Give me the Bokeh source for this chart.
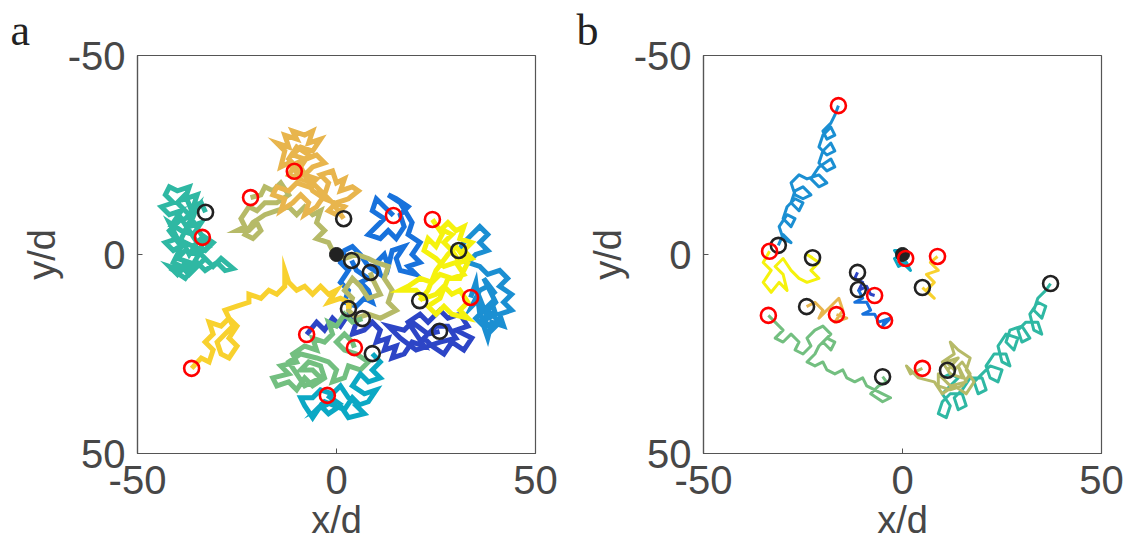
from bokeh.plotting import figure
from bokeh.layouts import row
from bokeh.models import Range1d, FixedTicker
from bokeh.embed import file_html
from bokeh.resources import INLINE

# ---------------- Panel a trajectories: (x/d, y/d) points ----------------
a_teal = [(-32.9,-10.6),(-34,-13),(-36,-12),(-35,-15),(-38,-14),(-37,-17),(-40,-16),(-42,-17),(-43,-15),(-41,-13),(-44,-12),(-42,-10),(-39,-11),(-41,-8),(-38,-9),(-35,-12),(-37,-7),(-34,-8),(-36,-5),(-39,-6),(-42,-8),(-40,-4),(-43,-3),(-41,-1),(-38,-3),(-36,-2),(-34,-4),(-32,-2),(-35,0),(-38,-1),(-40,1),(-37,2),(-39,4),(-42,3),(-40,5),(-38,2),(-36,4),(-33,1),(-35,3),(-37,5),(-39,3),(-41,4),(-38,6),(-35,2),(-33,4),(-30,2),(-28,4),(-26,3.5),(-29,1),(-31,3),(-34,0),(-36,-2),(-33,-1),(-31,-3),(-34,-5),(-37,-10),(-40,-13),(-38,-15),(-36,-10),(-39,-4),(-37,0),(-35,-3),(-39,-9),(-42,-6),(-39,-2),(-41,2),(-37,4),(-34,-1),(-33.7,-4.3)]

a_orange = [(-10.6,-20.9),(-12,-23),(-14,-22),(-13,-26),(-15,-28),(-12,-27),(-13,-30),(-10,-29),(-11,-31),(-8,-30),(-6,-31),(-7,-28),(-4,-29),(-6,-26),(-9,-27),(-11,-25),(-8,-24),(-11,-22),(-9,-19),(-12,-20),(-10,-23),(-5,-25),(-3,-23),(-6,-22),(-8,-20),(-5,-19),(-7,-17),(-10,-18),(-12,-16),(-15,-17),(-16,-15),(-13,-14),(-14,-11),(-11,-13),(-9,-15),(-7,-13),(-8,-10),(-5,-12),(-3,-15),(-2,-18),(-4,-20),(-1,-21),(0,-18),(2,-19),(1,-16),(4,-17),(5.5,-16),(3,-14),(0,-13),(-2,-11),(0,-10),(2,-12),(-3,-14),(-6,-16),(-9,-22),(-7,-25),(-10,-27),(-12,-24),(-9,-21),(-4,-16),(-1,-13),(1.8,-9)]

a_olive = [(-21.6,-14.3),(-19,-15),(-18,-17),(-16,-16),(-14,-18),(-12,-15),(-15,-13),(-18,-13),(-20,-11),(-22,-12),(-24,-9),(-23,-7),(-25,-6),(-22,-6),(-20,-8),(-19,-6),(-21,-4),(-23,-5),(-21,-8),(-18,-10),(-15,-11),(-12,-12),(-10,-10),(-8,-12),(-6,-10),(-4,-11),(-5,-8),(-3,-6),(-5,-4),(-2,-3),(-1,-1),(0,0),(2,1),(5,0),(8,1),(10,2),(13,3),(12,6),(14,9),(13,12),(15,14),(11,16),(8,15),(5,16),(3,14),(4,11),(2,9),(4,6),(6,8),(8,11),(11,10),(9,6),(8.5,4.5)]

a_blue = [(14.3,-9.8),(12,-12),(10,-14),(9,-11),(12,-9),(10,-7),(8,-5),(11,-4),(13,-6),(15,-4),(17,-7),(16,-10),(18,-12),(15,-14),(13,-15),(16,-13),(19,-8),(18,-5),(21,-3),(19,0),(21,2),(18,3),(20,5),(16,4),(15,1),(17,-2),(14,-1),(13,3),(12,0),(10,2),(11,5),(8,3),(6,0),(4,-2),(2,-1),(1,2),(3,4),(1,7),(3,9),(2,12),(5,13),(7,11),(9,12),(8,9),(6,7),(8,6),(5,4),(3.8,1.5)]

a_yellow = [(24.1,-8.8),(26,-6),(28,-8),(30,-6),(32,-7),(31,-4),(34,-3),(32,-1),(34,1),(31,2),(29,-1),(27,-3),(29,-5),(27,-6),(25,-2),(23,-4),(22,-1),(25,1),(27,3),(30,2),(32,5),(29,6),(26,5),(24,7),(21,6),(18,8),(16,9),(20,9),(22,11),(25,10),(27,8),(29,10),(31,9),(33,12),(31,14),(33,16),(29,15),(27,13),(25,15),(23,13),(26,11),(28,6),(31,6),(33,2),(30,-2),(28,0),(25,4),(23,9),(20.9,11.6)]

a_lblue = [(30.7,-1),(32,-3),(34,-5),(36,-7),(38,-5),(36,-3),(38,-1),(35,0),(33,2),(36,3),(38,5),(41,4),(43,6),(41,8),(44,10),(42,12),(44,14),(41,15),(42,18),(39,17),(38,21),(37,18),(35,16),(37,14),(39,12),(40,15),(38,16),(36,11),(34,13),(36,9),(38,8),(40,10),(37,6),(40,12),(38,14),(41,17),(39,19),(36,15),(35,7),(33.7,10.8)]

a_dblue = [(-7.5,20.1),(-5,17),(-3,19),(-1,16),(1,18),(3,15),(5,17),(4,20),(7,19),(9,17),(11,19),(10,22),(13,21),(12,24),(15,23),(14,26),(17,25),(19,22),(22,23),(20,20),(18,17),(21,15),(23,17),(26,14),(28,16),(31,15),(33,18),(30,19),(34,21),(32,24),(29,22),(27,25),(24,23),(22,21),(25,18),(28,18),(30,21),(26,22),(20,24),(16,21),(13,18),(17,19),(19,17),(23,20),(25.9,19.3)]

a_green = [(6.5,16.1),(4,17),(2,15),(0,18),(-2,17),(-1,20),(-3,22),(-6,21),(-5,24),(-8,23),(-11,25),(-10,27),(-14,28),(-12,30),(-16,31),(-15,33),(-12,32),(-10,34),(-8,31),(-6,33),(-3,31),(-4,28),(-7,27),(-9,29),(-6,29),(-4,31),(-8,33),(-12,27),(-9,25),(-5,26),(-2,27),(0,29),(-1,32),(2,31),(3,28),(6,29),(8,27),(5,25),(2,24),(0,22),(2,20),(4,22),(4.5,23.4)]

a_cyan = [(9,24.9),(11,27),(9,29),(11,31),(8,32),(6,30),(4,33),(7,35),(10,34),(8,37),(5,38),(7,40),(3,41),(1,38),(-2,40),(-4,38),(-6,41),(-8,38),(-9,36),(-6,36),(-4,34),(-1,35),(1,33),(3,36),(6,38),(4,36),(2,39),(-3,37),(-5,39),(-1,37),(0,37),(-2.3,35.4)]

a_gold = [(-36.4,28.6),(-34,26),(-32,27),(-31,24),(-33,22),(-31,20),(-32,17),(-29,18),(-27,16),(-25,18),(-27,21),(-25,23),(-27,26),(-29,25),(-30,22),(-28,20),(-26,18),(-28,14),(-25,13),(-22,12),(-22,10),(-19,11),(-17,9),(-15,10),(-13,8),(-13,4),(-12,7),(-10,9),(-8,8),(-6,10),(-4,8),(-2,10),(0,9),(-2,12),(1,11),(3,12),(3,13.6)]

a_start_x = [-32.9, 1.8, 3.8, 8.5, 20.9, 3.0, 6.5, 25.9, 9.0, 30.7]
a_start_y = [-10.6, -9.0, 1.5, 4.5, 11.6, 13.6, 16.1, 19.3, 24.9, -1.0]
a_end_x = [-33.7, -21.6, -10.6, 14.3, 24.1, 33.7, -7.5, 4.5, -2.3, -36.4]
a_end_y = [-4.3, -14.3, -20.9, -9.8, -8.8, 10.8, 20.1, 23.4, 35.4, 28.6]
a_fixed_x = [0.0]
a_fixed_y = [0.0]

# ---------------- Panel b trajectories ----------------
b_blue = [(-16.1,-37.4),(-17,-35),(-18,-33),(-20,-31),(-19,-29),(-17,-30),(-18,-32),(-20,-30),(-21,-27),(-19,-25),(-17,-26),(-18,-28),(-20,-26),(-21,-23),(-19,-21),(-17,-22),(-18,-24),(-21,-22),(-23,-19),(-21,-17),(-19,-18),(-21,-20),(-24,-19),(-26,-20),(-28,-18),(-27,-15),(-25,-14),(-23,-15),(-25,-17),(-27,-16),(-28,-13),(-26,-11),(-25,-13),(-27,-14),(-29,-12),(-30,-9),(-28,-7),(-27,-9),(-29,-10),(-31,-7),(-30,-4),(-28,-3),(-30,-5),(-31.2,-2.3)]

b_yellow = [(-33.4,-0.8),(-35,2),(-33,4),(-35,7),(-33,9.5),(-31,7),(-29,9),(-30,5),(-32,3),(-30,1),(-28,4),(-26,6),(-24,7),(-21,6),(-23,4),(-21,2),(-24,0),(-22.6,0.8)]

b_orange = [(-24.1,13.1),(-22,12),(-20,14),(-21,16),(-18,13),(-16,11),(-15,14),(-17,17),(-14,16),(-16.6,15.1)]

b_green = [(-33.7,15.3),(-32,17),(-30,19),(-32,21),(-30,22),(-28,20),(-26,22),(-27,24),(-25,25),(-23,23),(-24,21),(-22,19),(-20,18),(-18,20),(-20,22),(-18,24),(-17,22),(-19,21),(-21,23),(-22,25),(-24,27),(-22,28),(-20,27),(-19,29),(-17,30),(-15,29),(-14,31),(-12,32),(-10,31),(-9,33),(-7,34),(-5,35),(-3,36),(-5,37),(-8,35),(-6,33),(-4,32),(-5.0,30.7)]

b_dblue = [(-11.3,4.5),(-12,6),(-10,7),(-11,9),(-9,8),(-8,10),(-7.0,10.3)]

b_blue2 = [(-11.1,8.8),(-10,11),(-12,12),(-9,12),(-8,14),(-10,15),(-7,15),(-6,17),(-3,16),(-5,18),(-4.5,16.6)]

b_gold = [(8.8,0.5),(7,2),(9,4),(6,5),(8,7),(6,9),(8,11),(5.0,8.3)]

b_cyan = [(0,0),(-2,1),(-1,3),(1,2),(2,4),(0,2),(-2,-1),(1,-1),(0.8,1.0)]

b_olive = [(5.0,28.6),(2,30),(1,28),(4,31),(8,32),(10,35),(13,33),(16,35),(18,32),(16,29),(17,26),(14,24),(12,22),(13,25),(10,27),(12,30),(15,31),(14,28),(16,32),(12,33),(9,30),(9,33),(12,34),(15,33),(17,30),(15,27),(13,29),(11,27),(14,26),(11.3,29.1)]

b_teal = [(37.2,7.3),(36,9),(34,11),(33,14),(35,16),(36,13),(34,12),(32,15),(33,19),(35,20),(34,17),(31,17),(29,19),(30,22),(32,21),(30,18),(27,19),(26,22),(28,24),(29,21),(26,20),(24,23),(25,27),(27,28),(26,25),(23,25),(21,28),(22,31),(24,32),(25,29),(22,28),(20,30),(18,32),(19,35),(21,34),(20,31),(17,31),(15,34),(13,36),(14,39),(16,38),(15,35),(12,35),(10,37),(9,40),(11,41),(12,38),(10,35),(12,33),(14,31),(12,30),(10,31)]

b_start_x = [-31.2, -22.6, -24.1, -5.0, -11.3, -11.1, 5.0, 11.3, 37.2]
b_start_y = [-2.3, 0.8, 13.1, 30.7, 4.5, 8.8, 8.3, 29.1, 7.3]
b_end_x = [-16.1, -33.4, -16.6, -33.7, -7.0, -4.5, 8.8, 5.0, 0.8]
b_end_y = [-37.4, -0.8, 15.1, 15.3, 10.3, 16.6, 0.5, 28.6, 1.0]
b_fixed_x = [0.0]
b_fixed_y = [0.0]

ticks = [-50, 0, 50]
tick_labels = {-50: "-50", 0: "0", 50: "50"}
FONT = "Liberation Sans"
AX = "#555555"
TXT = "#474747"


def panel(letter, trajs, lw, join, start, end, fixed, left):
    p = figure(frame_width=398, frame_height=398,
               x_range=Range1d(-50, 50), y_range=Range1d(50, -50),
               output_backend="svg", toolbar_location=None,
               min_border_left=left, min_border_right=31,
               min_border_top=55, min_border_bottom=96)
    p.title.text = letter
    p.title.align = "left"
    p.title.offset = -(left - 10)
    p.title.text_font = "Liberation Serif"
    p.title.text_font_style = "normal"
    p.title.text_font_size = "44px"
    p.title.text_color = "#222222"
    p.title.standoff = 2
    p.grid.visible = False
    p.outline_line_color = AX
    p.outline_line_width = 1.2
    for ax in (p.xaxis[0], p.yaxis[0]):
        ax.ticker = FixedTicker(ticks=ticks)
        ax.major_label_overrides = tick_labels
        ax.minor_tick_line_color = None
        ax.major_tick_in = 5
        ax.major_tick_out = 0
        ax.major_tick_line_color = AX
        ax.axis_line_color = AX
        ax.axis_line_width = 1.2
        ax.major_label_text_font = FONT
        ax.major_label_text_font_size = "40px"
        ax.major_label_text_color = TXT
        ax.major_label_text_line_height = 1.0
        ax.major_label_standoff = 12
        ax.axis_label_text_font = FONT
        ax.axis_label_text_font_size = "38px"
        ax.axis_label_text_font_style = "normal"
        ax.axis_label_text_color = TXT
        ax.axis_label_text_line_height = 1.0
        ax.axis_label_standoff = 2
    p.xaxis.axis_label = "x/d"
    p.yaxis.axis_label = "y/d"
    p.yaxis.major_label_orientation = "horizontal"
    for pts, col in trajs:
        p.line([q[0] for q in pts], [q[1] for q in pts], line_color=col,
               line_width=lw, line_join=join)
    p.scatter(fixed[0], fixed[1], size=14, fill_color="#222222", line_color="#222222")
    p.scatter(start[0], start[1], size=15, fill_color=None, line_color="#222222", line_width=2.6)
    p.scatter(end[0], end[1], size=15, fill_color=None, line_color="#ff0000", line_width=2.6)
    return p


pa = panel("a", [
    (a_lblue, "#1b8fd2"),
    (a_dblue, "#2d45c6"),
    (a_blue, "#1872dc"),
    (a_olive, "#b6ba68"),
    (a_orange, "#e8b54d"),
    (a_green, "#73bf80"),
    (a_cyan, "#0ba8c4"),
    (a_teal, "#2fb8a3"),
    (a_gold, "#f8d12e"),
    (a_yellow, "#f5f20d"),
], 5.0, "miter", (a_start_x, a_start_y), (a_end_x, a_end_y), (a_fixed_x, a_fixed_y), 137)

pb = panel("b", [
    (b_teal, "#2fb8a3"),
    (b_olive, "#b6ba68"),
    (b_blue, "#1b8fd2"),
    (b_yellow, "#f5f20d"),
    (b_orange, "#e8b54d"),
    (b_green, "#73bf80"),
    (b_dblue, "#2d45c6"),
    (b_blue2, "#1872dc"),
    (b_gold, "#f8d12e"),
    (b_cyan, "#0ba8c4"),
], 3.0, "round", (b_start_x, b_start_y), (b_end_x, b_end_y), (b_fixed_x, b_fixed_y), 137)

layout = row(pa, pb, spacing=0)
open("out.html", "w").write(file_html(layout, INLINE))
